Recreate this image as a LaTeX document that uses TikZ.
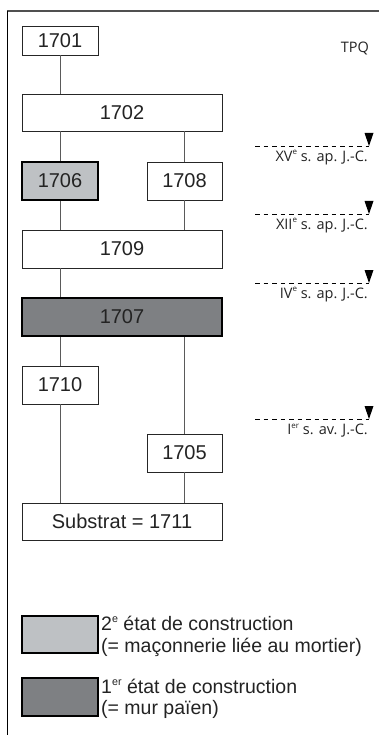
\documentclass[tikz,border=0pt]{standalone}
\usepackage{fontspec}
\setmainfont{Liberation Sans}
\newfontfamily\labfont{Open Sans}
\definecolor{lightfill}{RGB}{190,193,196}
\definecolor{darkfill}{RGB}{126,128,131}
\definecolor{connc}{RGB}{90,90,90}
\definecolor{framec}{RGB}{80,80,80}
\definecolor{txtc}{RGB}{35,35,35}
\newcommand{\smsup}[1]{\raisebox{0.42em}{\scalebox{0.55}{#1}}}
\tikzset{
  box/.style={draw=black!85, line width=0.8pt, fill=white, inner sep=0pt, text=txtc, font=\fontsize{20}{24}\selectfont},
  lightbox/.style={box, draw=black, fill=lightfill, line width=1.6pt},
  darkbox/.style={box, draw=black, fill=darkfill, line width=1.6pt},
  conn/.style={draw=connc, line width=0.8pt},
  dashline/.style={draw=black, line width=0.9pt, dash pattern=on 4.5pt off 4pt},
  lab/.style={font=\labfont\fontsize{14.5}{16}\selectfont, inner sep=0pt, text=txtc},
  legtext/.style={font=\fontsize{19.5}{21.5}\selectfont, align=left, inner sep=0pt, anchor=west, text=txtc}
}
\begin{document}
\begin{tikzpicture}[x=1pt,y=-1pt]
\useasboundingbox (0,0) rectangle (379,735);
% frame
\draw[framec, line width=1.4pt] (379,11) -- (7,11);
\draw[black, line width=1pt] (7,11) -- (7,735);
% boxes
\node[box, minimum width=76pt, minimum height=29pt] (n1701) at (60,40.5) {1701};
\node[box, minimum width=200pt, minimum height=37pt] (n1702) at (122,112.5) {1702};
\node[lightbox, minimum width=76pt, minimum height=38pt] (n1706) at (60,181) {1706};
\node[box, minimum width=75pt, minimum height=38pt] (n1708) at (184.5,181) {1708};
\node[box, minimum width=200pt, minimum height=38pt] (n1709) at (122,249) {1709};
\node[darkbox, minimum width=200pt, minimum height=38pt] (n1707) at (122,317) {1707};
\node[box, minimum width=76pt, minimum height=38pt] (n1710) at (60,385) {1710};
\node[box, minimum width=75pt, minimum height=38pt] (n1705) at (184.5,453) {1705};
\node[box, minimum width=200pt, minimum height=37pt] (n1711) at (122,521.5) {Substrat = 1711};
% connectors
\draw[conn] (n1701.south) -- (n1701.south |- n1702.north);
\draw[conn] (n1706.north |- n1702.south) -- (n1706.north);
\draw[conn] (n1708.north |- n1702.south) -- (n1708.north);
\draw[conn] (n1706.south) -- (n1706.south |- n1709.north);
\draw[conn] (n1708.south) -- (n1708.south |- n1709.north);
\draw[conn] (n1710.north |- n1709.south) -- (n1710.north |- n1707.north);
\draw[conn] (n1710.north |- n1707.south) -- (n1710.north);
\draw[conn] (n1705.north |- n1707.south) -- (n1705.north);
\draw[conn] (n1710.south) -- (n1710.south |- n1711.north);
\draw[conn] (n1705.south) -- (n1705.south |- n1711.north);
% TPQ
\node[lab, anchor=east] (tpq) at (369,48) {TPQ};
% date markers
\foreach \nm/\yy/\txt in {d15/146/{XV\smsup{e} s. ap. J.-C.},
                          d12/214/{XII\smsup{e} s. ap. J.-C.},
                          d4/283/{IV\smsup{e} s. ap. J.-C.},
                          d1/419/{I\smsup{er} s. av. J.-C.}}{
  \coordinate (\nm s) at (255,\yy);
  \coordinate (\nm e) at (369,\yy);
  \draw[dashline] (\nm s) -- (\nm e);
  \fill[black] (\nm e) -- ++(-4.5,-13) -- ++(9,0) -- cycle;
  \node[lab, anchor=east] (\nm l) at (368,\yy+11.5) {\txt};
}
% legend
\node[lightbox, minimum width=76pt, minimum height=37pt] (leg2) at (60,634.5) {};
\node[legtext] (leg2t) at (101,636.5) {2\smsup{e} état de construction\\(= maçonnerie liée au mortier)};
\node[darkbox, minimum width=76pt, minimum height=38pt] (leg1) at (60,697) {};
\node[legtext] (leg1t) at (101,699) {1\smsup{er} état de construction\\(= mur païen)};
\end{tikzpicture}
\end{document}
